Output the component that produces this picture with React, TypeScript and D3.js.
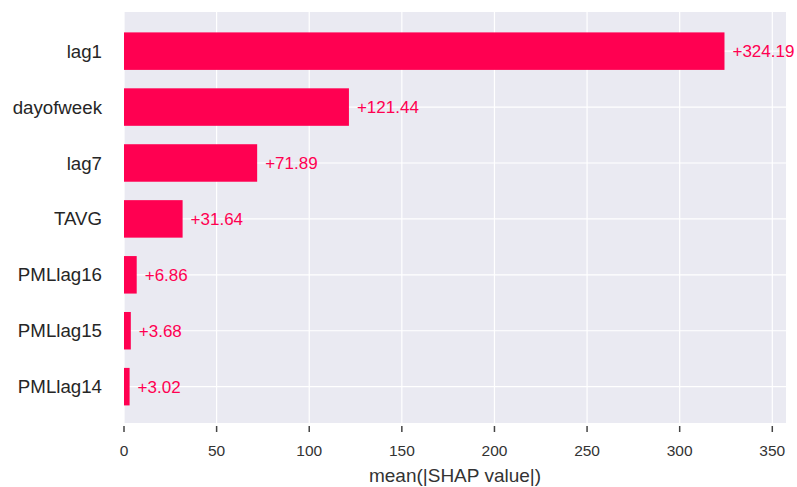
import React, { useEffect, useRef } from 'react';
import * as d3 from 'd3';

const features = ['lag1', 'dayofweek', 'lag7', 'TAVG', 'PMLlag16', 'PMLlag15', 'PMLlag14'];
const shapValues = [324.19, 121.44, 71.89, 31.64, 6.86, 3.68, 3.02];
const xTicks = [0, 50, 100, 150, 200, 250, 300, 350];

const W = 797;
const H = 487;
const BAR_COLOR = '#ff0051';

const App: React.FC = () => {
  const svgRef = useRef<SVGSVGElement>(null);

  useEffect(() => {
    if (!svgRef.current) return;
    const root = d3.select(svgRef.current);
    root.selectAll('*').remove();

    const plot = { left: 124, right: 786, top: 12, bottom: 423 };
    const font = '"Liberation Sans", Arial, sans-serif';

    const x = d3.scaleLinear().domain([0, 357.4]).range([plot.left, plot.right]);
    // rank scale: index 0 at top
    const y = d3.scaleLinear().domain([-0.7, features.length - 0.35]).range([plot.top, plot.bottom]);
    const barH = 37.5;

    // background
    root
      .append('rect')
      .attr('x', plot.left)
      .attr('y', plot.top)
      .attr('width', plot.right - plot.left)
      .attr('height', plot.bottom - plot.top)
      .attr('fill', '#eaeaf2');

    // vertical grid
    root
      .selectAll('.vgrid')
      .data(xTicks)
      .enter()
      .append('line')
      .attr('x1', (d) => x(d))
      .attr('x2', (d) => x(d))
      .attr('y1', plot.top)
      .attr('y2', plot.bottom)
      .style('stroke', '#ffffff')
      .style('stroke-width', 1.2);

    // horizontal grid
    root
      .selectAll('.hgrid')
      .data(features)
      .enter()
      .append('line')
      .attr('x1', plot.left)
      .attr('x2', plot.right)
      .attr('y1', (_d, i) => y(i))
      .attr('y2', (_d, i) => y(i))
      .style('stroke', '#ffffff')
      .style('stroke-width', 1.2);

    // bars
    root
      .selectAll('.bar')
      .data(shapValues)
      .enter()
      .append('rect')
      .attr('x', x(0))
      .attr('y', (_d, i) => y(i) - barH / 2)
      .attr('width', (d) => x(d) - x(0))
      .attr('height', barH)
      .attr('fill', BAR_COLOR);

    // value labels
    root
      .selectAll('.val')
      .data(shapValues)
      .enter()
      .append('text')
      .attr('x', (d) => x(d) + 8)
      .attr('y', (_d, i) => y(i))
      .attr('dy', '0.35em')
      .style('font-family', font)
      .style('font-size', '17px')
      .style('fill', BAR_COLOR)
      .text((d) => `+${d.toFixed(2)}`);

    // y labels
    root
      .selectAll('.ylab')
      .data(features)
      .enter()
      .append('text')
      .attr('x', 102)
      .attr('y', (_d, i) => y(i))
      .attr('dy', '0.35em')
      .attr('text-anchor', 'end')
      .style('font-family', font)
      .style('font-size', '18.7px')
      .style('fill', '#262626')
      .text((d) => d);

    // x ticks
    root
      .selectAll('.tick')
      .data(xTicks)
      .enter()
      .append('line')
      .attr('x1', (d) => x(d))
      .attr('x2', (d) => x(d))
      .attr('y1', 426)
      .attr('y2', 432)
      .style('stroke', '#444')
      .style('stroke-width', 1.5);

    root
      .selectAll('.xlab')
      .data(xTicks)
      .enter()
      .append('text')
      .attr('x', (d) => x(d))
      .attr('y', 451)
      .attr('dy', '0.35em')
      .attr('text-anchor', 'middle')
      .style('font-family', font)
      .style('font-size', '15.5px')
      .style('fill', '#333')
      .text((d) => String(d));

    root
      .append('text')
      .attr('x', (plot.left + plot.right) / 2)
      .attr('y', 475)
      .attr('dy', '0.35em')
      .attr('text-anchor', 'middle')
      .style('font-family', font)
      .style('font-size', '19px')
      .style('fill', '#333')
      .text('mean(|SHAP value|)');
  }, []);

  return (
    <svg
      ref={svgRef}
      width={W}
      height={H}
      style={{ position: 'absolute', left: 0, top: 0, background: '#fff' }}
    />
  );
};

export default App;
